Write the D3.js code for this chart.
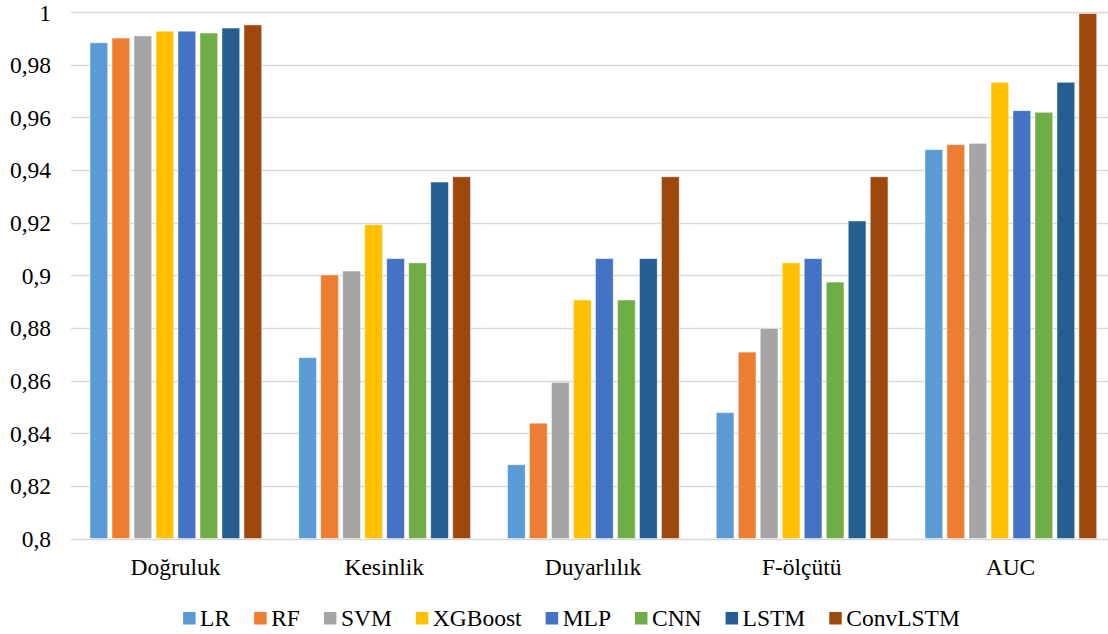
<!DOCTYPE html>
<html>
<head>
<meta charset="utf-8">
<script src="https://cdn.jsdelivr.net/npm/d3@7"></script>
<style>
  html, body { margin: 0; padding: 0; background: #fff; }
  svg { display: block; }
</style>
</head>
<body>
<svg id="chart" width="1108" height="634"></svg>
<script>
// Metric groups along the x axis
const categories = ["Doğruluk", "Kesinlik", "Duyarlılık", "F-ölçütü", "AUC"];

// Models (legend order)
const seriesNames = ["LR", "RF", "SVM", "XGBoost", "MLP", "CNN", "LSTM", "ConvLSTM"];
const seriesColors = ["#5B9BD5", "#ED7D31", "#A5A5A5", "#FFC000", "#4472C4", "#70AD47", "#255E91", "#9E480E"];

// Scores per model, one value per metric in category order
const LR       = [0.9883, 0.8687, 0.8280, 0.8478, 0.9477];
const RF       = [0.9901, 0.9001, 0.8438, 0.8708, 0.9496];
const SVM      = [0.9909, 0.9016, 0.8593, 0.8798, 0.9501];
const XGBoost  = [0.9927, 0.9192, 0.8906, 0.9047, 0.9733];
const MLP      = [0.9927, 0.9063, 0.9063, 0.9063, 0.9625];
const CNN      = [0.9920, 0.9047, 0.8906, 0.8974, 0.9619];
const LSTM     = [0.9939, 0.9354, 0.9063, 0.9206, 0.9733];
const ConvLSTM = [0.9951, 0.9374, 0.9374, 0.9374, 0.9994];

const seriesValues = [LR, RF, SVM, XGBoost, MLP, CNN, LSTM, ConvLSTM];

// Y axis ticks
const yTicks = [0.8, 0.82, 0.84, 0.86, 0.88, 0.9, 0.92, 0.94, 0.96, 0.98, 1];

const FONT = '"Liberation Serif"';

const svg = d3.select("#chart");

const plot = { left: 71.1, right: 1114.85, top: 12, bottom: 538.5 };

const x0 = d3.scaleBand().domain(categories).range([plot.left, plot.right]).padding(0);
const x1 = d3.scaleBand().domain(seriesNames).range([16.75, 16.75 + 176]).padding(0);
const y = d3.scaleLinear().domain([0.8, 1]).range([plot.bottom, plot.top]);

const fmt = v => String(+v.toFixed(2)).replace(".", ",");

// Horizontal gridlines
svg.append("g")
  .selectAll("line")
  .data(yTicks)
  .join("line")
  .attr("x1", plot.left)
  .attr("x2", plot.right)
  .attr("y1", d => Math.round(y(d)) + 0.5)
  .attr("y2", d => Math.round(y(d)) + 0.5)
  .attr("stroke", "#D9D9D9")
  .attr("stroke-width", 1.4);

// Y axis labels
const yAxis = d3.axisLeft(y).tickValues(yTicks).tickFormat(fmt).tickSize(0).tickPadding(0);
const yg = svg.append("g").attr("transform", "translate(51,0)").call(yAxis);
yg.attr("font-family", null).attr("font-size", null);
yg.select(".domain").remove();
yg.selectAll("text")
  .style("font-family", FONT)
  .style("font-size", "23.5px")
  .style("fill", "#000")
  .attr("dy", "0.34em");

// Bars
const gap = 4.3;
const groups = svg.append("g")
  .selectAll("g")
  .data(categories)
  .join("g")
  .attr("transform", d => `translate(${x0(d)},0)`);

groups.selectAll("rect")
  .data((c, ci) => seriesNames.map((s, si) => ({ s, si, v: seriesValues[si][ci] })))
  .join("rect")
  .attr("x", d => x1(d.s) + gap / 2)
  .attr("width", x1.bandwidth() - gap)
  .attr("y", d => y(d.v))
  .attr("height", d => y(0.8) - y(d.v))
  .attr("fill", d => seriesColors[d.si])
  .attr("stroke", "#ffffff")
  .attr("stroke-opacity", 0.55)
  .attr("stroke-width", 0.8);

// Category labels
const xAxis = d3.axisBottom(x0).tickSize(0).tickPadding(0);
const xg = svg.append("g").attr("transform", "translate(0,556)").call(xAxis);
xg.attr("font-family", null).attr("font-size", null);
xg.select(".domain").remove();
xg.selectAll("text")
  .style("font-family", FONT)
  .style("font-size", "23.5px")
  .style("fill", "#000")
  .attr("dy", "0.8em")
  .attr("y", 0);

// Legend
const legend = svg.append("g");
const items = legend.selectAll("g")
  .data(seriesNames)
  .join("g");
items.append("rect")
  .attr("width", 12.5)
  .attr("height", 12.5)
  .attr("y", 612)
  .attr("fill", (d, i) => seriesColors[i]);
items.append("text")
  .attr("x", 17)
  .attr("y", 625.5)
  .style("font-family", FONT)
  .style("font-size", "23.5px")
  .style("fill", "#000")
  .text(d => d);

const itemGap = 24;
let cx = 0;
const offsets = [];
items.each(function () {
  const tw = d3.select(this).select("text").node().getComputedTextLength();
  offsets.push(cx);
  cx += 17 + tw + itemGap;
});
const total = cx - itemGap;
const startX = 571.5 - total / 2;
items.attr("transform", (d, i) => `translate(${startX + offsets[i]},0)`);
</script>
</body>
</html>
